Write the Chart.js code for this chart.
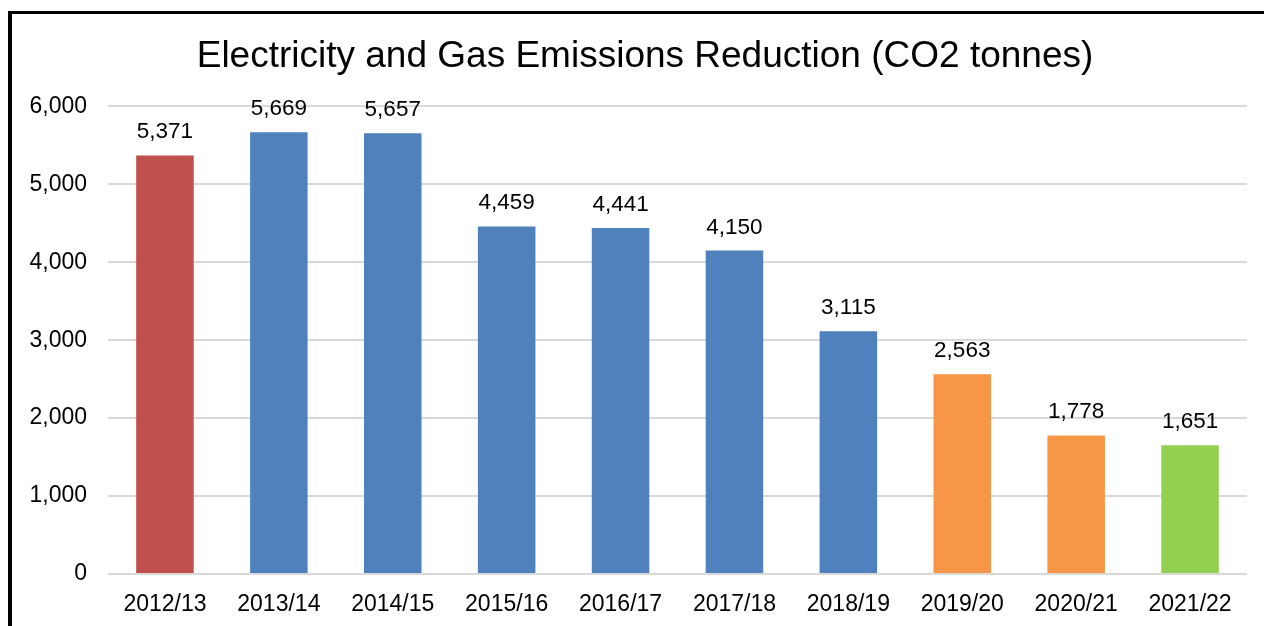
<!DOCTYPE html>
<html>
<head>
<meta charset="utf-8">
<script src="https://cdn.jsdelivr.net/npm/chart.js@4.4.0/dist/chart.umd.min.js"></script>
<style>
  html, body { margin: 0; padding: 0; background: #fff; overflow: hidden; width: 1264px; height: 626px; }
  #frame { position: absolute; left: 8px; top: 11px; width: 1300px; height: 700px; border-left: 4px solid #000; border-top: 3px solid #000; }
  #wrap { position: absolute; left: 12px; top: 14px; width: 1266px; height: 612px; }
</style>
</head>
<body>
<div id="frame"></div>
<div id="wrap"><canvas id="c"></canvas></div>
<script>
const categories = ["2012/13", "2013/14", "2014/15", "2015/16", "2016/17", "2017/18", "2018/19", "2019/20", "2020/21", "2021/22"];
const emissions = [5371, 5669, 5657, 4459, 4441, 4150, 3115, 2563, 1778, 1651];
const yTicks = [0, 1000, 2000, 3000, 4000, 5000, 6000];
const barColors = ["#C0504D", "#4F81BD", "#4F81BD", "#4F81BD", "#4F81BD", "#4F81BD", "#4F81BD", "#F79646", "#F79646", "#92D050"];
const chartTitle = "Electricity and Gas Emissions Reduction (CO2 tonnes)";

const FONT = "'Liberation Sans', Arial, sans-serif";
const fmt = v => Number(v).toLocaleString('en-US');

const dataLabels = {
  id: 'dataLabels',
  afterDatasetsDraw(chart) {
    const ctx = chart.ctx;
    ctx.save();
    ctx.font = "22.5px " + FONT;
    ctx.fillStyle = "#000";
    ctx.textAlign = "center";
    ctx.textBaseline = "alphabetic";
    chart.getDatasetMeta(0).data.forEach((bar, i) => {
      ctx.fillText(fmt(emissions[i]), bar.x, bar.y - 17);
    });
    ctx.restore();
  }
};

// centre the title across the whole chart box rather than the padded area
const titleCentre = {
  id: 'titleCentre',
  afterLayout(chart) {
    const t = chart.titleBlock;
    if (t) { t.left = 0; t.right = chart.width; t.width = chart.width; }
  }
};

new Chart(document.getElementById('c'), {
  type: 'bar',
  data: {
    labels: categories,
    datasets: [{
      data: emissions,
      backgroundColor: barColors,
      borderWidth: 0,
      barPercentage: 0.505,
      categoryPercentage: 1.0
    }]
  },
  options: {
    responsive: true,
    maintainAspectRatio: false,
    animation: false,
    layout: { padding: { left: 0, right: 31, top: 0, bottom: 0 } },
    plugins: {
      legend: { display: false },
      tooltip: { enabled: false },
      title: {
        display: true,
        text: chartTitle,
        color: "#000",
        font: { family: FONT, size: 37, weight: 'normal', lineHeight: 1.2 },
        padding: { top: 21, bottom: 27 }
      }
    },
    scales: {
      x: {
        grid: { display: false },
        border: { display: false },
        ticks: { color: "#000", font: { family: FONT, size: 23 }, padding: 9, maxRotation: 0, autoSkip: false },
        afterFit(scale) { scale.height = 52; }
      },
      y: {
        min: 0,
        max: 6000,
        afterBuildTicks(scale) { scale.ticks = yTicks.map(v => ({ value: v })); },
        grid: { color: "#D9D9D9", lineWidth: 2, drawTicks: false },
        border: { display: false },
        ticks: { color: "#000", font: { family: FONT, size: 23 }, padding: 21, callback: v => fmt(v) },
        afterFit(scale) { scale.width = 96; }
      }
    }
  },
  plugins: [dataLabels, titleCentre]
});
</script>
</body>
</html>
